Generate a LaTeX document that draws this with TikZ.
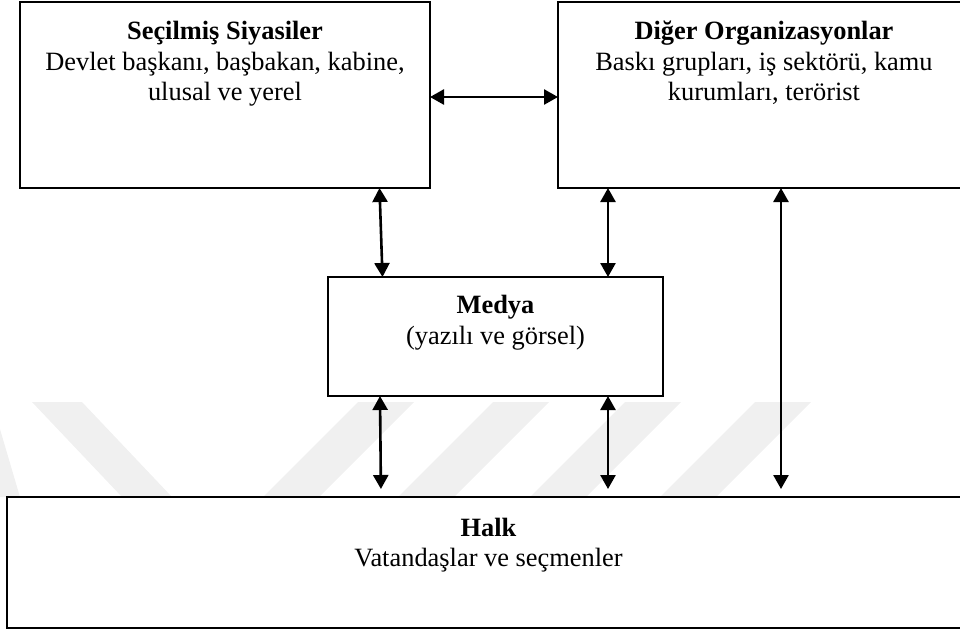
\documentclass[tikz,border=0pt]{standalone}
\usepackage{fontspec}
\setmainfont{Liberation Serif}
\usetikzlibrary{arrows.meta}

\tikzset{
  box/.style={draw=black, line width=0.9pt, fill=white, rectangle,
              inner sep=0pt, outer sep=0pt},
  txt/.style={anchor=base, inner sep=0pt,
              font=\fontsize{13.2}{15.3}\selectfont},
  hdr/.style={txt, font=\fontsize{13.2}{15.3}\selectfont\bfseries},
  biarrow/.style={line width=1.3pt,
                  {Triangle[length=7pt,width=7.5pt]}-{Triangle[length=7pt,width=7.5pt]}},
  band/.style={fill=black!6, draw=none}
}

\begin{document}
\begin{tikzpicture}[x=0.5pt, y=-0.5pt]
  \useasboundingbox (0,0) rectangle (960,629);

  % faint background bands
  \fill[band] (32,402) -- (82,402) -- (172,497) -- (122,497) -- cycle;
  \fill[band] (-60,402) -- (-8,402) -- (20,497) -- (-35,497) -- cycle;
  \fill[band] (358,402) -- (414,402) -- (319,497) -- (263,497) -- cycle;
  \fill[band] (493,402) -- (549,402) -- (454,497) -- (398,497) -- cycle;
  \fill[band] (625,402) -- (681,402) -- (586,497) -- (530,497) -- cycle;
  \fill[band] (755,402) -- (811,402) -- (716,497) -- (660,497) -- cycle;

  % boxes
  \node[box, minimum width=205pt, minimum height=93pt]   (pol)  at (225,95)    {};
  \node[box, minimum width=206pt, minimum height=93pt]   (org)  at (764,95)    {};
  \node[box, minimum width=167.5pt, minimum height=59.5pt] (med) at (495.5,336.5) {};
  \node[box, minimum width=481.5pt, minimum height=65.5pt] (halk) at (488.5,562.5) {};

  % box texts
  \node[hdr] (polT)  at (225,39) {Seçilmiş Siyasiler};
  \node[txt] (polA)  at (225,70) {Devlet başkanı, başbakan, kabine,};
  \node[txt] (polB)  at (225,100) {ulusal ve yerel};

  \node[hdr] (orgT)  at (764,39) {Diğer Organizasyonlar};
  \node[txt] (orgA)  at (764,70) {Baskı grupları, iş sektörü, kamu};
  \node[txt] (orgB)  at (764,100) {kurumları, terörist};

  \node[hdr] (medT)  at (495.5,313) {Medya};
  \node[txt] (medA)  at (495.5,344) {(yazılı ve görsel)};

  \node[hdr] (halkT) at (488.5,536) {Halk};
  \node[txt] (halkA) at (488.5,566) {Vatandaşlar ve seçmenler};

  % reference positions for the connectors
  \coordinate (hy)  at (0,97);
  \coordinate (xa)  at (379.5,0);
  \coordinate (xb)  at (382.5,0);
  \coordinate (xc)  at (380,0);
  \coordinate (xd)  at (381,0);
  \coordinate (xe)  at (608,0);
  \coordinate (xf)  at (781,0);

  % connectors
  \draw[biarrow] (pol.east |- hy) -- (org.west |- hy);
  \draw[biarrow] (pol.south -| xa) -- (med.north -| xb);
  \draw[biarrow] (org.south -| xe) -- (med.north -| xe);
  \draw[biarrow, shorten >=4pt] (med.south -| xc) -- (halk.north -| xd);
  \draw[biarrow, shorten >=4pt] (med.south -| xe) -- (halk.north -| xe);
  \draw[biarrow, shorten >=4pt] (org.south -| xf) -- (halk.north -| xf);
\end{tikzpicture}
\end{document}
